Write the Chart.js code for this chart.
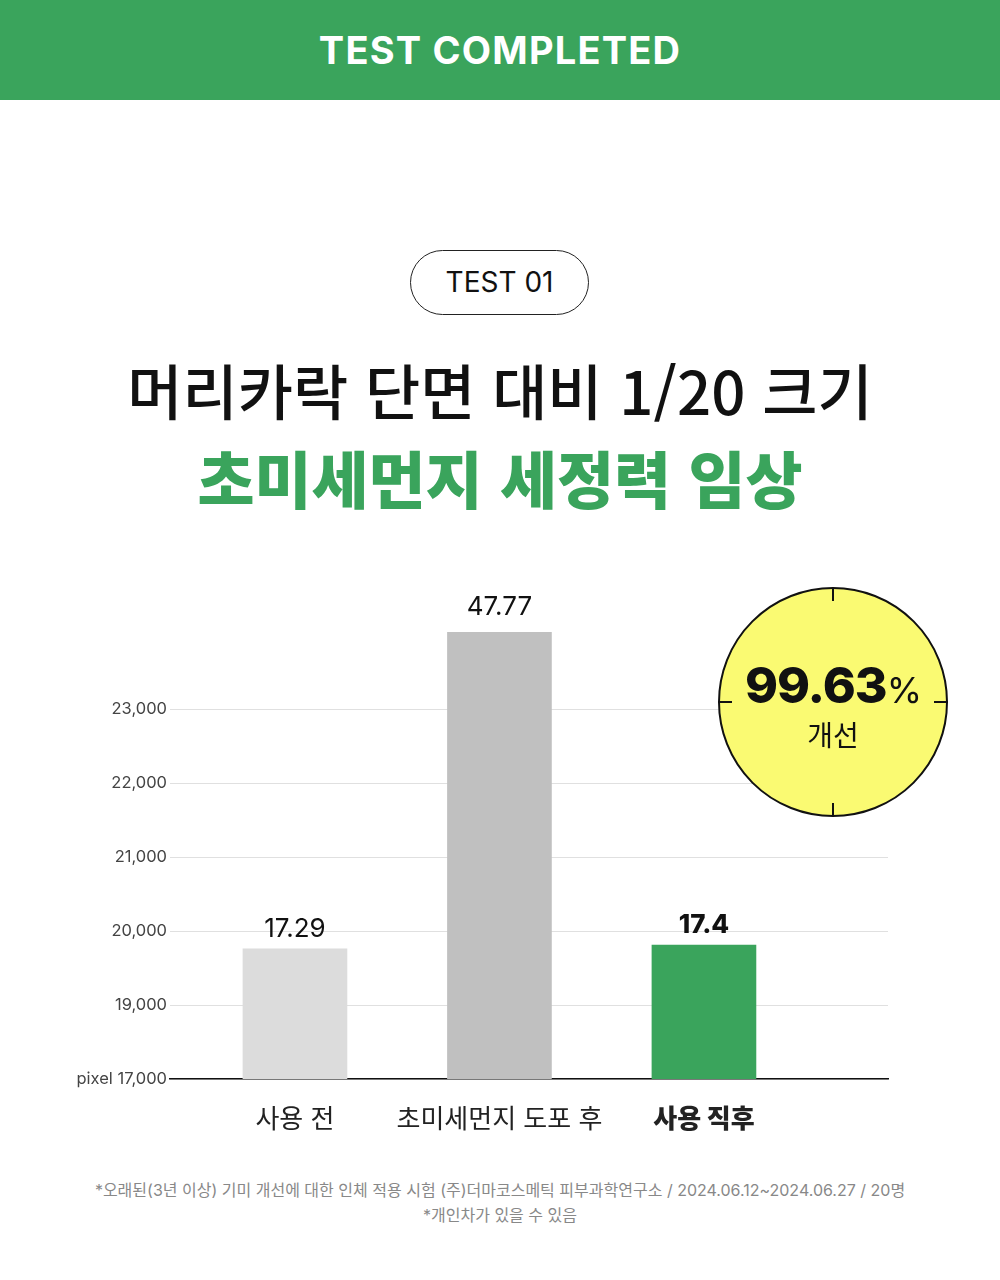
<!DOCTYPE html>
<html lang="ko">
<head>
<meta charset="utf-8">
<script src="https://cdn.jsdelivr.net/npm/chart.js@4.4.1/dist/chart.umd.min.js"></script>
<style>
  body { margin: 0; width: 1000px; height: 1280px; background: #fff; position: relative; overflow: hidden;
         font-family: Inter, 'Noto Sans CJK KR', sans-serif; color: #111; }
  .header { position: absolute; left: 0; top: 0; width: 1000px; height: 100px; background: #3aa45c;
            color: #fff; font-size: 38px; font-weight: 700; text-align: center; line-height: 100px; letter-spacing: 1.2px; }
  .pill { position: absolute; left: 410px; top: 250px; width: 177px; height: 63px; border: 1.5px solid #222;
          border-radius: 33px; text-align: center; line-height: 63px; font-size: 28px; }
  .title { position: absolute; left: 0; width: 1000px; text-align: center; letter-spacing: 0;
           font-family: 'Noto Sans CJK KR', sans-serif; }
  .t1 { top: 345px; font-size: 60px; font-weight: 500; color: #111; }
  .t2 { top: 432px; font-size: 62px; font-weight: 800; color: #3aa45c; }
  #wrap { position: absolute; left: 0; top: 560px; width: 1000px; height: 600px; }
  .badge { position: absolute; left: 718px; top: 587px; width: 226px; height: 226px; border: 2px solid #111;
           border-radius: 50%; background: #fafa72; text-align: center; }
  .badge .tick { position: absolute; background: #111; }
  .badge .num { position: absolute; left: 0; width: 100%; top: 66px; font-size: 50px; font-weight: 800; letter-spacing: -1px; }
  .badge .num small { font-size: 36px; font-weight: 400; }
  .badge .sub { position: absolute; left: 0; width: 100%; top: 125px; font-size: 28px; font-family: 'Noto Sans CJK KR', sans-serif; }
  .note { position: absolute; left: 0; width: 1000px; text-align: center; font-size: 16px; color: #888;
          font-family: Inter, 'Noto Sans CJK KR', sans-serif; }
</style>
</head>
<body>
<div class="header">TEST COMPLETED</div>
<div class="pill">TEST 01</div>
<div class="title t1">머리카락 단면 대비 1/20 크기</div>
<div class="title t2">초미세먼지 세정력 임상</div>

<div id="wrap"><canvas id="chart"></canvas></div>

<div class="badge">
  <div class="tick" style="left:112px;top:-2px;width:2px;height:14px"></div>
  <div class="tick" style="left:112px;bottom:-2px;width:2px;height:14px"></div>
  <div class="tick" style="top:112px;left:-2px;width:14px;height:2px"></div>
  <div class="tick" style="top:112px;right:-2px;width:14px;height:2px"></div>
  <div class="num">99.63<small>%</small></div>
  <div class="sub">개선</div>
</div>

<div class="note" style="top:1177px">*오래된(3년 이상) 기미 개선에 대한 인체 적용 시험 (주)더마코스메틱 피부과학연구소 / 2024.06.12~2024.06.27 / 20명</div>
<div class="note" style="top:1202px">*개인차가 있을 수 있음</div>

<script>
// categories and values
const categories = ['사용 전', '초미세먼지 도포 후', '사용 직후'];
const barValues = [19760, 24040, 19810];          // bar height in axis units
const valueLabels = ['17.29', '47.77', '17.4'];     // printed above bars
const barColors = ['#dcdcdc', '#c0c0c0', '#3aa45c'];
const tickValues = [18000, 19000, 20000, 21000, 22000, 23000];
const tickLabels = ['17,000', '19,000', '20,000', '21,000', '22,000', '23,000'];
const unitLabel = 'pixel';

const font = "Inter, 'Noto Sans CJK KR', sans-serif";

// labels on top of each bar
const valueLabelPlugin = {
    id: 'valueLabels',
    afterDatasetsDraw(chart) {
        const ctx = chart.ctx;
        const meta = chart.getDatasetMeta(0);
        ctx.save();
        ctx.textAlign = 'center';
        ctx.textBaseline = 'middle';
        ctx.fillStyle = '#111';
        meta.data.forEach((bar, i) => {
            const bold = i === categories.length - 1;
            ctx.font = (bold ? '800 ' : '400 ') + '26px ' + font;
            ctx.fillText(valueLabels[i], bar.x, bar.y - (i === 1 ? 25 : 20));
        });
        ctx.restore();
    }
};

const ctx = document.getElementById('chart').getContext('2d');
new Chart(ctx, {
    type: 'bar',
    data: {
        datasets: [{
            data: barValues.map((v, i) => ({ x: i, y: v })),
            backgroundColor: barColors,
            barThickness: 104,
            borderWidth: 0
        }]
    },
    options: {
        responsive: true,
        maintainAspectRatio: false,
        animation: false,
        layout: { padding: { top: 53, right: 112, bottom: 0, left: 0 } },
        plugins: { legend: { display: false }, tooltip: { enabled: false } },
        scales: {
            x: {
                type: 'linear',
                min: -0.611,
                max: 2.9,
                offset: false,
                grid: { display: false },
                border: { display: true, color: '#111', width: 1.5 },
                afterBuildTicks: axis => { axis.ticks = categories.map((c, i) => ({ value: i })); },
                afterFit: axis => { axis.height = 81; },
                ticks: {
                    padding: 18,
                    color: '#222',
                    maxRotation: 0,
                    autoSkip: false,
                    font: c => ({ family: font, size: 26, weight: c.index === categories.length - 1 ? '800' : '400' }),
                    callback: (v, i) => categories[i]
                }
            },
            y: {
                min: 18000,
                max: 24300,
                grid: { color: '#e0e0e0', lineWidth: 1, drawTicks: false },
                border: { display: false },
                afterBuildTicks: axis => { axis.ticks = tickValues.map(v => ({ value: v })); },
                afterFit: axis => { axis.width = 170; },
                ticks: {
                    padding: 3,
                    color: '#444',
                    font: { family: font, size: 16.5 },
                    callback: (v, i) => i === 0 ? unitLabel + ' ' + tickLabels[i] : tickLabels[i]
                }
            }
        }
    },
    plugins: [valueLabelPlugin]
});
</script>
</body>
</html>
